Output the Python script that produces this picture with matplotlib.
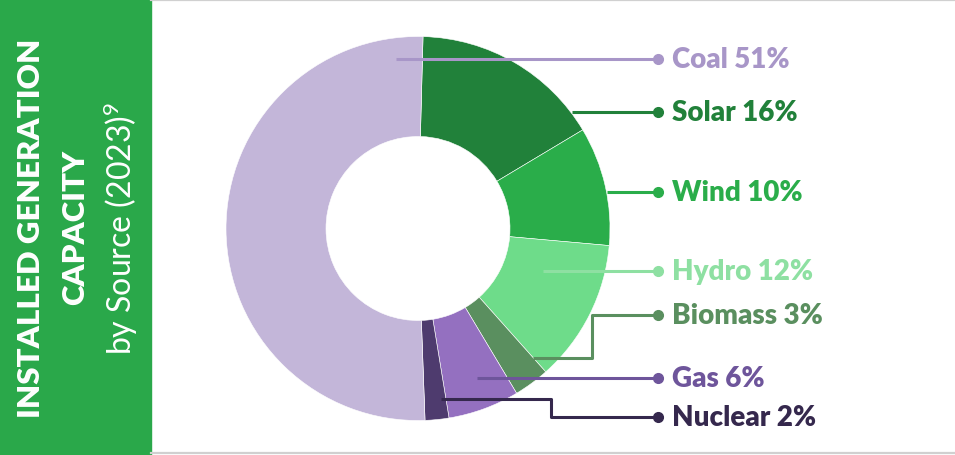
import numpy as np
import matplotlib.pyplot as plt
from matplotlib.patches import Rectangle

plt.rcParams['font.family'] = ['Lato', 'DejaVu Sans']
plt.rcParams['mathtext.fontset'] = 'custom'
plt.rcParams['mathtext.rm'] = 'Lato'
plt.rcParams['mathtext.it'] = 'Lato'

# data (clockwise from 12 o'clock)
sources = ['Solar', 'Wind', 'Hydro', 'Biomass', 'Gas', 'Nuclear', 'Coal']
shares = [16, 10, 12, 3, 6, 2, 51]
slice_colors = ['#21813a', '#2aad4a', '#6edc8a', '#5a8f5f', '#9470c0', '#4e3b6e', '#c3b6d9']
label_colors = ['#21813a', '#2aad4a', '#8ee0a2', '#5a8f5f', '#6e559b', '#35284d', '#a896c8']

W, H = 955, 456
fig = plt.figure(figsize=(W / 100, H / 100), dpi=100)
ax = fig.add_axes([0, 0, 1, 1])

def Y(p):
    # pixel row (from top) -> data y
    return H - p

cx, cy, R, r_in = 418, Y(229.5), 192, 92
start = 88.5

ax.pie(shares, colors=slice_colors, startangle=start, counterclock=False,
       center=(cx, cy), radius=R,
       wedgeprops=dict(width=R - r_in, edgecolor='white', linewidth=0.4))

# slice boundaries in degrees
ends = start - 3.6 * np.cumsum(shares)
starts = np.concatenate([[start], ends[:-1]])

# leader anchors: fraction along slice, radius; label row; optional elbow x
anchor_frac = [0.892, 0.556, 0.317, 0.02, 0.435, 0.22, 0.951]
anchor_rad = [193, 192, 132, 173, 161, 172, 171]
label_rows = [113, 193, 272, 316, 379, 418, 60]
elbow_x = [None, None, None, 592, None, 551, None]
dot_x, text_x = 658, 672

for i, name in enumerate(sources):
    a = np.radians(starts[i] + (ends[i] - starts[i]) * anchor_frac[i])
    x0 = cx + anchor_rad[i] * np.cos(a)
    y0 = cy + anchor_rad[i] * np.sin(a)
    yl = Y(label_rows[i])
    if elbow_x[i] is None:
        xs, ys = [x0, dot_x], [yl, yl]
    else:
        xs = [x0, elbow_x[i], elbow_x[i], dot_x]
        ys = [y0, y0, yl, yl]
    ax.plot(xs, ys, color=label_colors[i], lw=2.2, solid_capstyle='butt', zorder=5)
    ax.plot(dot_x, yl, 'o', color=label_colors[i], ms=7, zorder=6)
    ax.text(text_x, yl, f'{name} {shares[i]}%', color=label_colors[i],
            fontsize=20, fontweight='heavy', va='center', ha='left')

# left panel
ax.add_patch(Rectangle((0, 0), 151, H, color='#2aa84a', zorder=0))
ax.plot([151, W], [Y(1), Y(1)], color='#d0d0d0', lw=1.6)
ax.plot([151, W], [Y(454), Y(454)], color='#d0d0d0', lw=1.6)

ax.text(31, Y(228), 'INSTALLED GENERATION', rotation=90, color='white',
        fontsize=22.5, fontweight='heavy', ha='center', va='center')
ax.text(75, Y(227), 'CAPACITY', rotation=90, color='white',
        fontsize=22.5, fontweight='heavy', ha='center', va='center')
ax.text(121, Y(228), r'by Source (2023)$^{9}$', rotation=90, color='white',
        fontsize=23, ha='center', va='center')

ax.set_xlim(0, W)
ax.set_ylim(0, H)
ax.axis('off')
fig.savefig('out.png', dpi=100)
